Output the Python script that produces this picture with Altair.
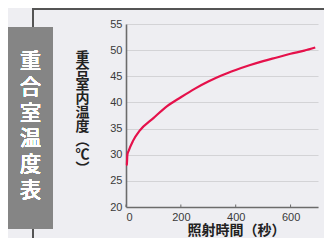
import altair as alt
import pandas as pd

# Data
time_s = [0, 3, 5, 10, 25, 50, 100, 150, 200, 250, 300, 350, 400, 450, 500, 550, 600, 650, 690]
temp_c = [28.0, 28.1, 30.0, 30.8, 32.6, 34.6, 37.0, 39.3, 41.0, 42.6, 44.0, 45.2, 46.2, 47.1, 47.9, 48.6, 49.3, 49.9, 50.5]
x_ticks = [0, 200, 400, 600]
y_ticks = [20, 25, 30, 35, 40, 45, 50, 55]
y_title = ["重", "合", "室", "内", "温", "度", "︵", "℃", "︶"]
x_title = "照射時間（秒）"
side_label = ["重", "合", "室", "温", "度", "表"]

W, H = 192, 183
FONT = "Liberation Sans"
CJK = "Noto Sans CJK JP"

df = pd.DataFrame({"t": time_s, "v": temp_c})
ticks_df = pd.DataFrame({"t": x_ticks})

x_scale = alt.Scale(domain=[0, 700], nice=False)
y_scale = alt.Scale(domain=[20, 55], nice=False)

line = alt.Chart(df).mark_line(color="#e5114b", strokeWidth=2.2, interpolate="monotone").encode(
    x=alt.X("t:Q", scale=x_scale,
            axis=alt.Axis(values=x_ticks, title=x_title, grid=False, ticks=False,
                          domainColor="#6b6b6b", domainWidth=1.6,
                          labelFont=FONT, labelFontSize=11, labelColor="#3a3a3a", labelPadding=4,
                          titleFont=CJK, titleFontSize=14, titleFontWeight="bold", titleColor="#222",
                          titleX=110, titleY=23, titleBaseline="middle", titleAnchor="middle")),
    y=alt.Y("v:Q", scale=y_scale,
            axis=alt.Axis(values=y_ticks, title=y_title, grid=True, gridColor="#d3d3d6", gridWidth=1,
                          ticks=False, domainColor="#6b6b6b", domainWidth=1.6,
                          labelFont=FONT, labelFontSize=11, labelColor="#3a3a3a", labelPadding=4,
                          titleFont=CJK, titleFontSize=14, titleFontWeight="bold", titleColor="#222",
                          titleAngle=0, titleLineHeight=13.9, titleX=-44, titleY=33,
                          titleAlign="center", titleBaseline="middle")),
)

tick_marks = alt.Chart(ticks_df).mark_rule(color="#6b6b6b", strokeWidth=1).encode(
    x=alt.X("t:Q", scale=x_scale), y=alt.value(H - 2.5), y2=alt.value(H)
)

box = alt.Chart(df).mark_rect(color="#858585").encode(
    x=alt.value(-118), x2=alt.value(-73), y=alt.value(3), y2=alt.value(205)
)
box_text = alt.Chart(df).mark_text(
    text=side_label, color="white", font=CJK, fontSize=21, lineHeight=25.8,
    align="center", baseline="middle"
).encode(x=alt.value(-95.5), y=alt.value(38))

frame_top = alt.Chart(df).mark_rule(color="#555", strokeWidth=1.5).encode(
    x=alt.value(-93), x2=alt.value(200), y=alt.value(-15.3)
)
frame_v1 = alt.Chart(df).mark_rule(color="#555", strokeWidth=1.5).encode(
    x=alt.value(-93), y=alt.value(-16), y2=alt.value(3)
)
frame_v2 = alt.Chart(df).mark_rule(color="#555", strokeWidth=1.5).encode(
    x=alt.value(-93), y=alt.value(205), y2=alt.value(231)
)

chart = alt.layer(frame_top, frame_v1, frame_v2, box, box_text, line, tick_marks).properties(
    width=W, height=H,
    autosize=alt.AutoSizeParams(type="none"),
    padding={"left": 118, "top": 16, "right": 6, "bottom": 31},
    background="#eeeef2",
).configure_view(stroke=None)

chart.save("out.html", embed_options={"renderer": "svg", "actions": False})
